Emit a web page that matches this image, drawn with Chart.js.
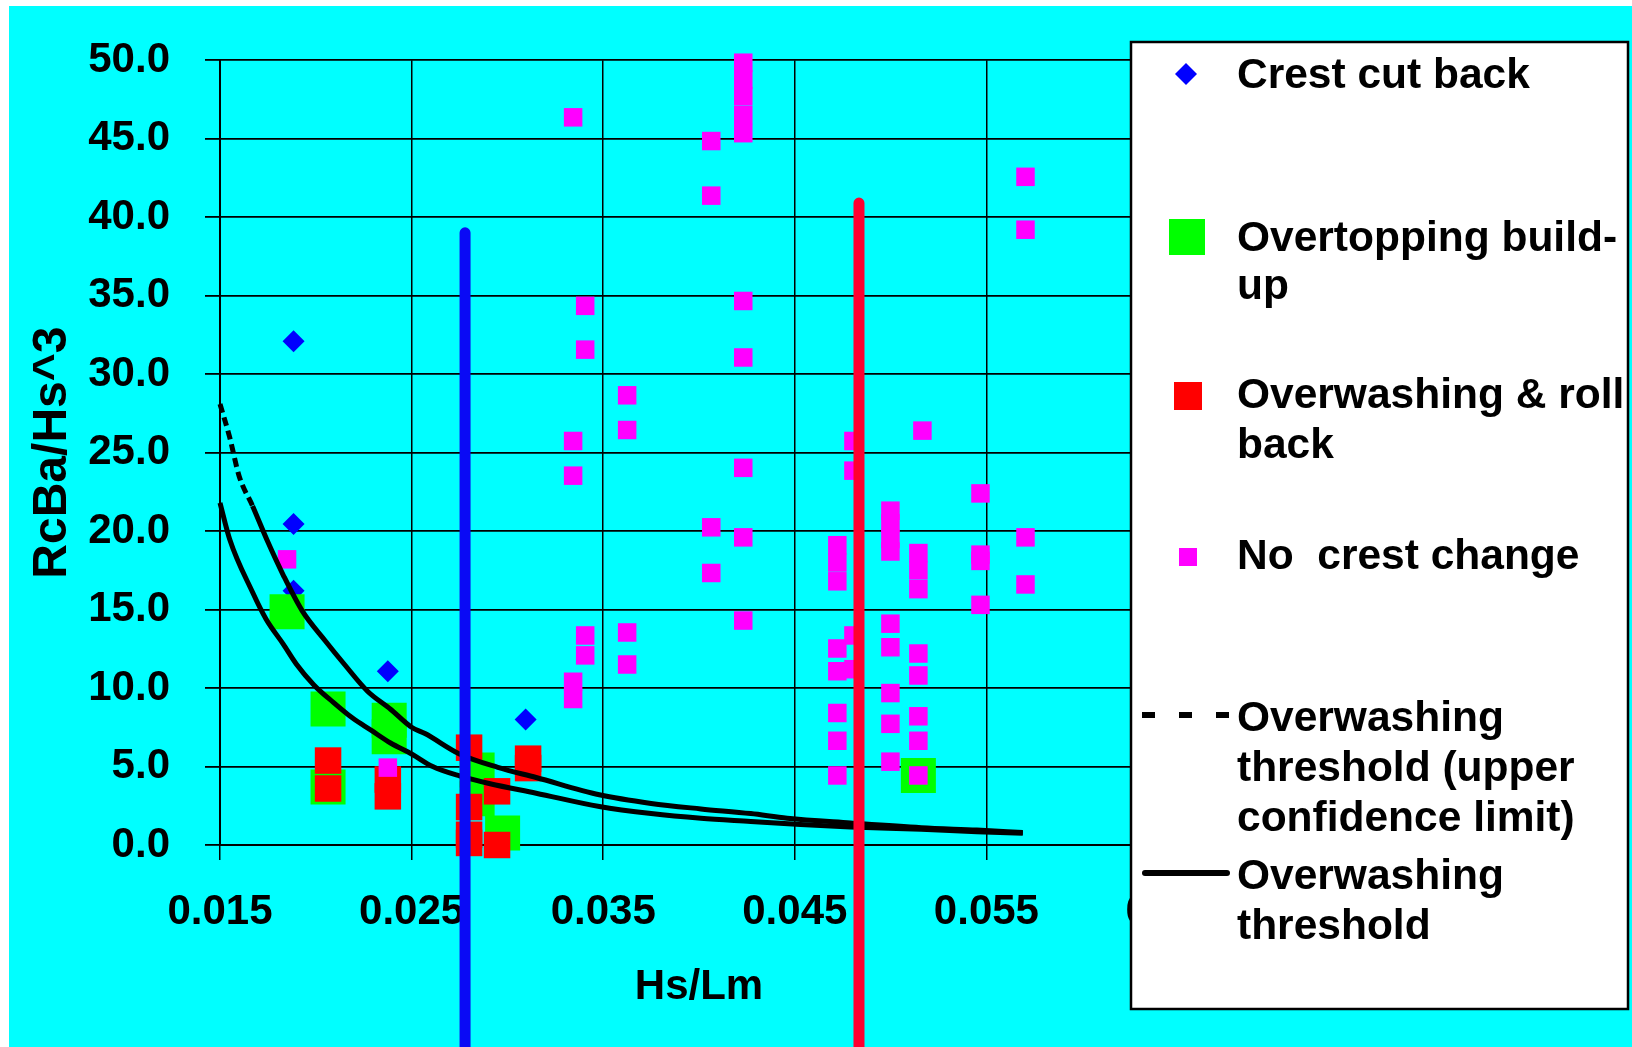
<!DOCTYPE html>
<html>
<head>
<meta charset="utf-8">
<script src="https://cdn.jsdelivr.net/npm/chart.js@4.4.1/dist/chart.umd.min.js"></script>
<style>
  html, body { margin: 0; padding: 0; background: #ffffff; overflow: hidden; }
  canvas { display: block; }
</style>
</head>
<body>
<canvas id="chart" width="1632" height="1047"></canvas>
<script>
// Axis ticks
const xTicks = [0.015, 0.025, 0.035, 0.045, 0.055, 0.065];
const yMin = 0, yMax = 50, yStep = 5;

// Crest cut back
const crestX = [0.01884, 0.01884, 0.01884, 0.02376, 0.03095];
const crestY = [32.1, 20.45, 16.2, 11.07, 8.0];

// Overtopping build-up
const buildX = [0.0185, 0.02064, 0.02064, 0.02383, 0.02383, 0.02842, 0.02842, 0.02975, 0.05145];
const buildY = [14.86, 8.67, 3.69, 7.94, 6.9, 4.78, 2.94, 0.76, 4.43];

// Overwashing & roll back
const rollX = [0.02064, 0.02064, 0.02376, 0.02376, 0.0280, 0.0280, 0.0280, 0.0280, 0.02946, 0.02946, 0.03108, 0.03108];
const rollY = [5.38, 3.6, 4.17, 3.1, 6.2, 2.42, 0.65, 0.13, 3.42, 0.0, 5.5, 4.9];

// No crest change
const noChangeX = [
  0.0185, 0.02376,
  0.03343, 0.03343, 0.03343, 0.03343, 0.03343,
  0.03406, 0.03406, 0.03406, 0.03406,
  0.03625, 0.03625, 0.03625, 0.03625,
  0.04064, 0.04064, 0.04064, 0.04064,
  0.04231, 0.04231, 0.04231, 0.04231, 0.04231, 0.04231, 0.04231, 0.04231, 0.04231, 0.04231,
  0.04722, 0.04722, 0.04722, 0.04722, 0.04722, 0.04722, 0.04722, 0.04722,
  0.04806, 0.04806, 0.04806, 0.04806,
  0.04999, 0.04999, 0.04999, 0.04999, 0.04999, 0.04999, 0.04999, 0.04999, 0.04999,
  0.05145, 0.05145, 0.05145, 0.05145, 0.05145, 0.05145, 0.05145, 0.05145, 0.05166,
  0.05469, 0.05469, 0.05469, 0.05469,
  0.05704, 0.05704, 0.05704, 0.05704
];
const noChangeY = [
  18.2, 4.93,
  46.36, 25.74, 23.53, 10.4, 9.3,
  34.35, 31.56, 13.35, 12.08,
  28.65, 26.44, 13.54, 11.5,
  44.85, 41.37, 20.24, 17.33,
  49.84, 48.77, 47.7, 46.5, 45.35, 34.66, 31.06, 24.03, 19.6, 14.3,
  19.1, 18.0, 16.8, 12.52, 11.07, 8.41, 6.64, 4.43,
  25.74, 23.85, 13.35, 11.2,
  21.3, 20.5, 19.5, 18.7, 14.1, 12.6, 9.68, 7.72, 5.31,
  18.6, 17.5, 16.3, 12.2, 10.8, 8.2, 6.64, 4.43, 26.4,
  22.4, 18.5, 18.1, 15.3,
  42.57, 39.2, 19.6, 16.6
];

// Overwashing threshold (upper confidence limit)
const upperX = [0.0150, 0.0155, 0.0160, 0.0167, 0.0175, 0.0183, 0.0193, 0.0205, 0.0215, 0.0227, 0.0239, 0.0250, 0.0257, 0.0275, 0.0295, 0.0315, 0.0348, 0.0375, 0.0401, 0.0427, 0.0446, 0.0479, 0.0516, 0.0545, 0.0569];
const upperY = [28.1, 26.0, 23.5, 21.6, 19.3, 17.2, 14.9, 13.0, 11.5, 9.8, 8.65, 7.5, 7.1, 5.8, 4.95, 4.3, 3.2, 2.65, 2.3, 2.0, 1.7, 1.4, 1.1, 0.95, 0.8];

// Overwashing threshold
const threshX = [0.0150, 0.0155, 0.0167, 0.0174, 0.0183, 0.0190, 0.0199, 0.0209, 0.0219, 0.0229, 0.0239, 0.0250, 0.0261, 0.0275, 0.0291, 0.0315, 0.0348, 0.0375, 0.0401, 0.0427, 0.0453, 0.0479, 0.0516, 0.0545, 0.0569];
const threshY = [21.8, 19.5, 16.1, 14.4, 12.8, 11.5, 10.2, 9.1, 8.1, 7.3, 6.5, 5.8, 5.0, 4.4, 3.9, 3.3, 2.45, 2.0, 1.7, 1.5, 1.3, 1.15, 1.0, 0.85, 0.75];

// Vertical marker lines
const blueLineX = [0.02779, 0.02779];
const blueLineY = [39.0, -13];
const redLineX = [0.04835, 0.04835];
const redLineY = [40.9, -13];

// Legend text, one array of lines per entry
const legendText = [
  ['Crest cut back'],
  ['Overtopping build-', 'up'],
  ['Overwashing & roll', 'back'],
  ['No  crest change'],
  ['Overwashing', 'threshold (upper', 'confidence limit)'],
  ['Overwashing', 'threshold']
];

const FAMILY = '"Liberation Sans", Arial, Helvetica, sans-serif';
const pts = (xs, ys) => xs.map((x, i) => ({ x: x, y: ys[i] }));

const CYAN = '#00FFFF';
const BLUE = '#0000FF';
const GREEN = '#00FF00';
const RED = '#FF0000';
const MAGENTA = '#FF00FF';

// Square marker radius for a given side length (Chart.js 'rect' uses radius * SQRT1_2 as half side)
const sq = side => side / Math.SQRT2;

const backgroundPlugin = {
  id: 'panelBackground',
  beforeDraw(chart) {
    const ctx = chart.ctx;
    ctx.save();
    ctx.fillStyle = '#ffffff';
    ctx.fillRect(0, 0, chart.width, chart.height);
    ctx.fillStyle = CYAN;
    ctx.fillRect(9, 6, chart.width - 9, chart.height - 6);
    ctx.restore();
  }
};

const legendPlugin = {
  id: 'sideLegend',
  afterDraw(chart) {
    const ctx = chart.ctx;
    const ds = chart.data.datasets;
    ctx.save();
    // box
    ctx.fillStyle = '#ffffff';
    ctx.fillRect(1131, 42, 497, 967);
    ctx.strokeStyle = '#000000';
    ctx.lineWidth = 2.5;
    ctx.strokeRect(1131, 42, 497, 967);

    // symbols
    // diamond
    ctx.fillStyle = ds[0].backgroundColor;
    ctx.beginPath();
    ctx.moveTo(1186, 63); ctx.lineTo(1197, 74); ctx.lineTo(1186, 85); ctx.lineTo(1175, 74);
    ctx.closePath(); ctx.fill();
    // squares
    ctx.fillStyle = ds[1].backgroundColor;
    ctx.fillRect(1169, 219, 36, 36);
    ctx.fillStyle = ds[2].backgroundColor;
    ctx.fillRect(1174, 382, 28, 28);
    ctx.fillStyle = ds[3].backgroundColor;
    ctx.fillRect(1179, 548, 18, 18);
    // dashed line
    ctx.strokeStyle = '#000000';
    ctx.lineWidth = 6;
    ctx.lineCap = 'butt';
    ctx.setLineDash([13, 24]);
    ctx.beginPath(); ctx.moveTo(1142, 715); ctx.lineTo(1229, 715); ctx.stroke();
    // solid line
    ctx.setLineDash([]);
    ctx.lineCap = 'round';
    ctx.beginPath(); ctx.moveTo(1145, 873); ctx.lineTo(1227, 873); ctx.stroke();

    // text
    ctx.fillStyle = '#000000';
    ctx.font = 'bold 42.5px ' + FAMILY;
    ctx.textAlign = 'left';
    ctx.textBaseline = 'alphabetic';
    const baselines = [[88], [251, 299], [408, 458], [569], [731, 781, 831], [889, 939]];
    legendText.forEach((lines, k) => {
      lines.forEach((t, i) => ctx.fillText(t, 1237, baselines[k][i]));
    });
    ctx.restore();
  }
};

const tickFont = { family: FAMILY, size: 42, weight: 'bold' };

new Chart(document.getElementById('chart'), {
  type: 'scatter',
  data: {
    datasets: [
      {
        label: legendText[0].join(' '),
        data: pts(crestX, crestY),
        pointStyle: 'rectRot', pointRadius: 11, pointHoverRadius: 11,
        backgroundColor: BLUE, borderWidth: 0, pointBorderWidth: 0,
        showLine: false, clip: false, order: 5
      },
      {
        label: legendText[1].join(' '),
        data: pts(buildX, buildY),
        pointStyle: 'rect', pointRadius: sq(35), pointHoverRadius: sq(35),
        backgroundColor: GREEN, borderWidth: 0, pointBorderWidth: 0,
        showLine: false, clip: false, order: 4
      },
      {
        label: legendText[2].join(' '),
        data: pts(rollX, rollY),
        pointStyle: 'rect', pointRadius: sq(26.5), pointHoverRadius: sq(26.5),
        backgroundColor: RED, borderWidth: 0, pointBorderWidth: 0,
        showLine: false, clip: false, order: 3
      },
      {
        label: legendText[3].join(' '),
        data: pts(noChangeX, noChangeY),
        pointStyle: 'rect', pointRadius: sq(18.5), pointHoverRadius: sq(18.5),
        backgroundColor: MAGENTA, borderWidth: 0, pointBorderWidth: 0,
        showLine: false, clip: false, order: 2
      },
      {
        label: legendText[4].join(' '),
        data: pts(upperX, upperY),
        type: 'line', showLine: true, pointRadius: 0,
        borderColor: '#000000', borderWidth: 5, borderDash: [],
        cubicInterpolationMode: 'monotone', fill: false, clip: false,
        segment: { borderDash: c => (c.p0.parsed.x < 0.0166 ? [9, 5] : undefined) },
        order: 1
      },
      {
        label: legendText[5].join(' '),
        data: pts(threshX, threshY),
        type: 'line', showLine: true, pointRadius: 0,
        borderColor: '#000000', borderWidth: 5,
        cubicInterpolationMode: 'monotone', fill: false, clip: false,
        order: 1
      },
      {
        label: 'blue limit',
        data: pts(blueLineX, blueLineY),
        type: 'line', showLine: true, pointRadius: 0,
        borderColor: '#0A0AF5', borderWidth: 11, borderCapStyle: 'round',
        fill: false, clip: false, order: 0
      },
      {
        label: 'red limit',
        data: pts(redLineX, redLineY),
        type: 'line', showLine: true, pointRadius: 0,
        borderColor: '#FF0030', borderWidth: 11, borderCapStyle: 'round',
        fill: false, clip: false, order: 0
      }
    ]
  },
  options: {
    responsive: false,
    devicePixelRatio: 1,
    animation: false,
    events: [],
    layout: { padding: { left: 9, top: 54, right: 454, bottom: 0 } },
    plugins: {
      legend: { display: false },
      tooltip: { enabled: false },
      title: { display: false }
    },
    scales: {
      x: {
        type: 'linear',
        min: xTicks[0],
        max: xTicks[xTicks.length - 1],
        afterBuildTicks: s => { s.ticks = xTicks.map(v => ({ value: v })); },
        afterFit: s => { s.height = 202; },
        ticks: {
          font: tickFont, color: '#000000', padding: 27,
          autoSkip: false, maxRotation: 0, minRotation: 0,
          callback: v => Number(v).toFixed(3)
        },
        grid: { color: '#000000', lineWidth: 1.5, tickLength: 15, drawTicks: true },
        border: { color: '#000000', width: 2 },
        title: {
          display: true, text: 'Hs/Lm', color: '#000000',
          font: { family: FAMILY, size: 42, weight: 'bold' },
          padding: { top: 0, bottom: 34 }
        }
      },
      y: {
        type: 'linear',
        min: yMin, max: yMax,
        afterFit: s => { s.width = 211; },
        ticks: {
          stepSize: yStep, font: tickFont, color: '#000000', padding: 35,
          autoSkip: false,
          callback: v => Number(v).toFixed(1)
        },
        grid: { color: '#000000', lineWidth: 1.8, tickLength: 15, drawTicks: true },
        border: { color: '#000000', width: 2 },
        title: {
          display: true, text: 'RcBa/Hs^3', color: '#000000',
          font: { family: FAMILY, size: 48, weight: 'bold' },
          padding: { top: 15, bottom: 0 }
        }
      }
    }
  },
  plugins: [backgroundPlugin, legendPlugin]
});
</script>
</body>
</html>
